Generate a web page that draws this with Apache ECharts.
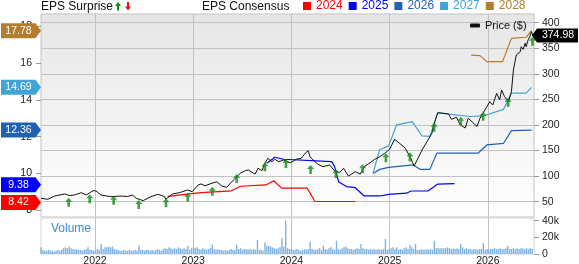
<!DOCTYPE html>
<html><head><meta charset="utf-8">
<script src="https://cdn.jsdelivr.net/npm/echarts@6/dist/echarts.min.js"></script>
<style>html,body{margin:0;padding:0;background:#fff}#c{width:579px;height:264px}</style>
</head><body><div id="c"></div>
<script>
// ---- data ----
const yearTicks = [2022, 2023, 2024, 2025, 2026];
const epsTicks = [8, 10, 12, 14, 16, 18];
const priceTicks = [50, 100, 150, 200, 250, 300, 350, 400];
const volTicks = [0, 10, 20, 30, 40];
const consensusYears = ['2024', '2025', '2026', '2027', '2028'];

const price = [[2021.45,56.6],[2021.52,54.6],[2021.59,61],[2021.69,65],[2021.74,62],[2021.79,63],[2021.86,67.6],[2021.91,63],[2021.98,71.5],[2022.01,71],[2022.06,63],[2022.16,59.8],[2022.27,61],[2022.33,60],[2022.38,63],[2022.42,56.6],[2022.49,52],[2022.57,59.8],[2022.64,64.4],[2022.71,59.8],[2022.72,54.6],[2022.79,65],[2022.86,67.6],[2022.94,72.8],[2022.99,69.5],[2023.05,82.6],[2023.08,84.6],[2023.12,81],[2023.17,84.6],[2023.24,89],[2023.29,80.7],[2023.34,78],[2023.41,92.4],[2023.48,105.5],[2023.53,110.6],[2023.56,112],[2023.63,104],[2023.66,115.3],[2023.70,110.6],[2023.73,125],[2023.76,134.8],[2023.80,128],[2023.83,133],[2023.87,128],[2023.92,131.5],[2023.99,126],[2024.05,133],[2024.10,134.8],[2024.14,144.6],[2024.17,149.7],[2024.19,138],[2024.22,131.5],[2024.27,123],[2024.32,118.4],[2024.39,121.7],[2024.44,110],[2024.49,106.7],[2024.53,115.3],[2024.58,100],[2024.65,108.6],[2024.70,104],[2024.75,119.8],[2024.80,126],[2024.85,133],[2024.90,138],[2024.95,144.6],[2025.00,152.4],[2025.05,172],[2025.10,164.2],[2025.16,154.4],[2025.21,136.8],[2025.25,119.8],[2025.28,131.5],[2025.33,151],[2025.38,167.3],[2025.43,183.7],[2025.46,206.4],[2025.49,224],[2025.55,222.8],[2025.60,221.5],[2025.63,211],[2025.68,215],[2025.72,200],[2025.77,194],[2025.80,213],[2025.84,206],[2025.89,197],[2025.92,213],[2025.95,222.8],[2025.99,235.7],[2026.02,245.5],[2026.05,239],[2026.09,262],[2026.12,249],[2026.14,268.4],[2026.17,255.4],[2026.21,245.5],[2026.24,265],[2026.26,307.5],[2026.28,327],[2026.29,336.8],[2026.33,343.3],[2026.34,353],[2026.36,348],[2026.38,359.7],[2026.39,353],[2026.41,366.2],[2026.43,374],[2026.445,382.4],[2026.458,374.98]];

const eps2024 = [[2022.74,8.75],[2023.08,8.95],[2023.39,9.05],[2023.48,9.3],[2023.74,9.37],[2023.82,9.6],[2023.90,9.2],[2024.16,9.2],[2024.24,8.47],[2024.65,8.47]];
const eps2025 = [[2023.75,10.55],[2023.83,10.88],[2023.92,10.77],[2024.41,10.64],[2024.44,10.37],[2024.48,9.55],[2024.56,9.28],[2024.65,9.22],[2024.74,8.77],[2024.90,8.77],[2024.99,8.86],[2025.17,8.92],[2025.22,9.04],[2025.39,9.04],[2025.49,9.42],[2025.66,9.44]];
const eps2026 = [[2024.83,10.0],[2024.90,10.22],[2024.99,10.33],[2025.24,10.46],[2025.31,10.22],[2025.41,10.22],[2025.48,11.1],[2025.90,11.1],[2025.99,11.55],[2026.16,11.64],[2026.24,12.33],[2026.445,12.36]];
const eps2027 = [[2024.83,10.0],[2024.90,11.3],[2024.99,11.5],[2025.07,12.64],[2025.23,12.82],[2025.33,12.04],[2025.41,12.02],[2025.49,13.3],[2025.82,13.1],[2025.95,13.13],[2026.16,13.49],[2026.24,14.37],[2026.39,14.37],[2026.445,14.69]];
const eps2028 = [[2025.83,16.45],[2025.92,16.42],[2025.99,16.09],[2026.15,16.09],[2026.24,17.36],[2026.39,17.42],[2026.445,17.78]];

const surpriseDates = [2021.732,2021.946,2022.190,2022.445,2022.723,2022.944,2023.194,2023.442,2023.730,2023.944,2024.195,2024.453,2024.725,2024.962,2025.206,2025.453,2025.725,2025.952,2026.207,2026.455];
const surprisePrices = [57.8,64.4,61.7,53.3,56.6,67.6,79.3,104,127,133.5,121.7,114,123,144.6,146.6,204.4,216,226,253.3,372.6];

const volStart = 2021.45; // first weekly bar (decimal year)
const volumeK = [8,5,4,4,5,4,4,3,4,5, 4,5,7,8,7,9,7,6,5,6, 5,5,4,5,6,8,5,5,4,5, 6,5,12,6,8,8,9,8,9,6,
 5,5,4,4,5,4,4,5,4,4, 5,4,10,5,5,4,5,5,4,5, 4,5,6,5,4,6,7,6,8,7, 6,7,6,8,7,6,7,6,10,5,
 7,8,7,8,6,5,7,6,5,6, 7,11,6,5,6,5,5,4,5,4, 5,6,5,5,11,6,7,5,6,6, 5,6,5,6,5,17,5,5,4,14,
 10,10,9,8,7,6,7,8,19,9, 40,7,6,6,5,5,6,5,4,5, 6,5,6,15,6,5,5,6,7,5, 10,6,5,7,8,6,5,16,6,5,
 7,8,9,7,6,6,5,6,7,6, 12,7,6,6,5,6,5,6,5,6, 5,5,6,18,5,6,7,8,6,8, 5,6,5,7,8,6,11,8,6,12,
 5,5,6,5,5,6,5,6,5,16, 7,7,7,7,7,7,8,7,6,7, 6,7,6,12,8,6,7,6,6,5, 6,6,5,6,6,13,5,6,5,6,
 6,7,6,6,7,6,6,7,10,6, 6,7,6,7,6,7,7,6,7,6, 7,6];

const epsTagValues = [17.78, 14.69, 12.36, 9.38, 8.42];
const lastPrice = 374.98;

// ---- styles ----
const FONT = "'Liberation Sans', Arial, sans-serif";
const colors = { '2024': '#ff0000', '2025': '#0000ff', '2026': '#2062b2', '2027': '#40a4d6', '2028': '#b27d2e' };
const tagColors = ['#b27d2e', '#40a4d6', '#2062b2', '#0000ff', '#ff0000'];
const gridColor = '#c2c2c2';
const X_MIN = 2021.45, X_MAX = 2026.47;
const MAIN = { left: 41, top: 14, width: 493, height: 203 };
const VOL = { left: 41, top: 218, width: 493, height: 36 };
const PRICE_AXIS = 0, EPS_AXIS = 1, VOL_AXIS = 2;

const chart = echarts.init(document.getElementById('c'), null, { renderer: 'canvas' });

const epsSeries = [eps2024, eps2025, eps2026, eps2027, eps2028].map((d, i) => ({
  name: consensusYears[i], type: 'line', xAxisIndex: 0, yAxisIndex: EPS_AXIS, data: d,
  symbol: 'none', lineStyle: { width: 1.2, color: colors[consensusYears[i]] },
  itemStyle: { color: colors[consensusYears[i]] }, z: 4, silent: true
}));

const volData = volumeK.map((v, i) => [volStart + i * 7 / 365.25, v]);
const arrowUp = 'path://M3.5,0 L7,4 L4.8,4 L4.8,9 L2.2,9 L2.2,4 L0,4 Z';

const option = {
  animation: false,
  textStyle: { fontFamily: FONT },
  grid: [
    Object.assign({ show: true, borderColor: gridColor, borderWidth: 1, backgroundColor: 'transparent', outerBoundsMode: 'none' }, MAIN),
    Object.assign({ show: true, borderColor: '#d6d6d6', borderWidth: 1, backgroundColor: 'transparent', outerBoundsMode: 'none' }, VOL)
  ],
  legend: [
    { data: consensusYears.map(y => ({ name: y, icon: 'rect', itemStyle: { color: colors[y] }, textStyle: { color: colors[y] } })),
      left: 303, top: 0, itemWidth: 8, itemHeight: 8, itemGap: 6, selectedMode: false, padding: 0,
      textStyle: { fontSize: 12, fontFamily: FONT } },
    { data: [{ name: 'Price ($)', icon: 'roundRect' }], left: 470, top: 20, itemWidth: 10, itemHeight: 4, selectedMode: false, padding: 0,
      textStyle: { fontSize: 11, fontFamily: FONT, color: '#111' } }
  ],
  xAxis: [
    { type: 'value', gridIndex: 0, z: 1, min: X_MIN, max: X_MAX, axisLine: { show: false },
      axisTick: { show: false, customValues: yearTicks }, axisLabel: { show: false, customValues: yearTicks },
      splitLine: { show: true, lineStyle: { color: gridColor, width: 1 } } },
    { type: 'value', gridIndex: 1, z: 1, min: X_MIN, max: X_MAX, axisLine: { show: false },
      axisTick: { show: false, customValues: yearTicks },
      axisLabel: { show: true, customValues: yearTicks, margin: 2, fontSize: 10.5, color: '#222', formatter: v => String(v) },
      splitLine: { show: true, lineStyle: { color: gridColor, width: 1 } } }
  ],
  yAxis: [
    { type: 'value', gridIndex: 0, z: 1, position: 'right', min: 20, max: 417, axisLine: { show: false },
      axisTick: { show: true, length: 5, customValues: priceTicks, lineStyle: { color: '#999' } },
      axisLabel: { customValues: priceTicks, margin: 8, fontSize: 10.5, color: '#222', showMinLabel: true, showMaxLabel: true },
      splitLine: { show: true, lineStyle: { color: gridColor, width: 1 } } },
    { type: 'value', gridIndex: 0, z: 1, position: 'left', min: 7.624, max: 18.687, axisLine: { show: false },
      axisTick: { show: true, length: 5, customValues: epsTicks, lineStyle: { color: '#999' } },
      axisLabel: { customValues: epsTicks, margin: 9, fontSize: 10.5, color: '#222', showMinLabel: true, showMaxLabel: true },
      splitLine: { show: false } },
    { type: 'value', gridIndex: 1, z: 1, position: 'right', min: 0, max: 43.2, axisLine: { show: false },
      axisTick: { show: true, length: 5, customValues: volTicks, lineStyle: { color: '#999' } },
      axisLabel: { customValues: volTicks, margin: 8, fontSize: 10.5, color: '#222', showMinLabel: true, showMaxLabel: true,
        formatter: v => v === 0 ? '0' : v + 'k' },
      splitLine: { show: false } }
  ],
  series: [
    ...epsSeries,
    { name: 'Price ($)', type: 'line', xAxisIndex: 0, yAxisIndex: PRICE_AXIS, data: price, symbol: 'none',
      lineStyle: { width: 1, color: '#111' }, itemStyle: { color: '#111' }, z: 5, silent: true },
    { name: 'EPS Surprise', type: 'scatter', xAxisIndex: 0, yAxisIndex: PRICE_AXIS,
      data: surpriseDates.map((d, i) => [d, surprisePrices[i]]),
      symbol: arrowUp, symbolSize: [7, 9], symbolOffset: [0, 4.5], itemStyle: { color: '#138a16' }, z: 6, clip: false, silent: true },
    { name: 'Volume', type: 'bar', xAxisIndex: 1, yAxisIndex: VOL_AXIS, data: volData, barWidth: 1.4,
      itemStyle: { color: '#7fb3e0' }, silent: true }
  ],
  graphic: []
};
chart.setOption(option);

function buildGraphics() {
  const g = [];
  g.push({ type: 'rect', shape: { x: MAIN.left, y: MAIN.top, width: MAIN.width, height: MAIN.height }, silent: true, z: -10,
    style: { fill: new echarts.graphic.LinearGradient(0, 0, 0, 1, [{ offset: 0, color: '#e6e6e6' }, { offset: 1, color: '#ffffff' }]) } });
  g.push({ type: 'text', left: 41, top: 1, style: { text: 'EPS Surprise', font: '12px ' + FONT, fill: '#111' }, z: 50 });
  g.push({ type: 'polygon', shape: { points: [[118, 2], [121, 6], [119, 6], [119, 10.5], [117, 10.5], [117, 6], [115, 6]] }, style: { fill: '#138a16' }, z: 50 });
  g.push({ type: 'polygon', shape: { points: [[127, 2], [129, 2], [129, 6.5], [131, 6.5], [128, 10.5], [125, 6.5], [127, 6.5]] }, style: { fill: '#ee1111' }, z: 50 });
  g.push({ type: 'text', left: 202, top: 1, style: { text: 'EPS Consensus', font: '12px ' + FONT, fill: '#111' }, z: 50 });
  g.push({ type: 'text', left: 51, top: 223, style: { text: 'Volume', font: '12px ' + FONT, fill: '#3b8bd0' }, z: 50 });
  epsTagValues.forEach((v, i) => {
    const y = chart.convertToPixel({ yAxisIndex: EPS_AXIS }, v);
    g.push({ type: 'polygon', shape: { points: [[1, y - 7.5], [35.5, y - 7.5], [41, y], [35.5, y + 7.5], [1, y + 7.5]] },
      style: { fill: tagColors[i] }, z: 100 });
    g.push({ type: 'text', x: 18.5, y: y, style: { text: v.toFixed(2), font: '10.5px ' + FONT, fill: '#fff', textAlign: 'center', textVerticalAlign: 'middle' }, z: 101 });
  });
  const py = chart.convertToPixel({ yAxisIndex: PRICE_AXIS }, lastPrice);
  g.push({ type: 'polygon', shape: { points: [[532, py], [537, py - 7], [578, py - 7], [578, py + 7], [537, py + 7]] }, style: { fill: '#000' }, z: 100 });
  g.push({ type: 'text', x: 558, y: py, style: { text: lastPrice.toFixed(2), font: '10.5px ' + FONT, fill: '#fff', textAlign: 'center', textVerticalAlign: 'middle' }, z: 101 });
  return g;
}
chart.setOption({ graphic: buildGraphics() });
</script>
</body></html>
